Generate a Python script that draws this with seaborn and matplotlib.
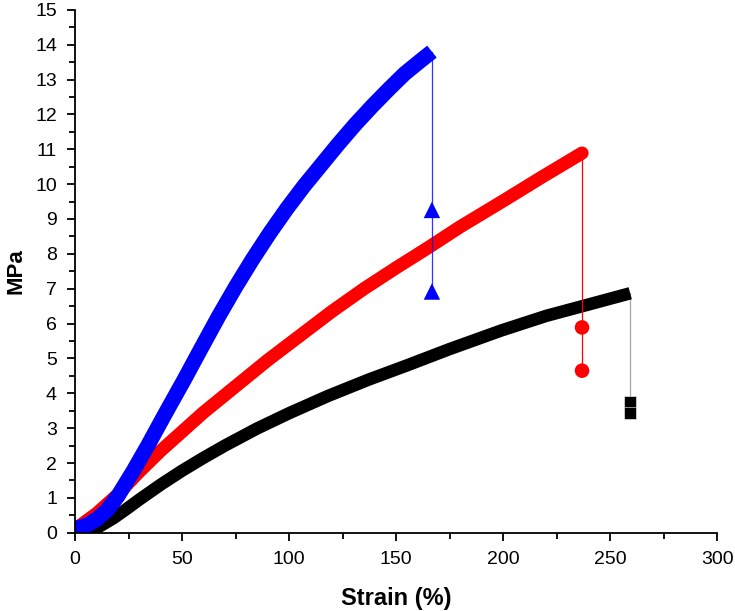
import numpy as np
import pandas as pd
import seaborn as sns
import matplotlib.pyplot as plt
from matplotlib.ticker import MultipleLocator

# stress-strain curves
blue_strain = [0, 5, 10, 15, 20, 27, 34, 42, 51, 59, 67, 75, 83, 91, 99, 107, 115, 123, 131, 139, 147, 154, 161, 166.7]
blue_mpa = [0.12, 0.2, 0.38, 0.65, 1.05, 1.75, 2.5, 3.4, 4.39, 5.3, 6.2, 7.05, 7.85, 8.6, 9.3, 9.95, 10.55, 11.15, 11.72, 12.25, 12.75, 13.17, 13.52, 13.8]
red_strain = [0, 10, 20, 30, 40, 50, 60, 75, 90, 105, 120, 135, 150, 165, 180, 200, 218, 236.8]
red_mpa = [0.1, 0.55, 1.1, 1.75, 2.35, 2.9, 3.45, 4.2, 4.95, 5.65, 6.35, 7.0, 7.6, 8.18, 8.78, 9.52, 10.2, 10.89]
black_strain = [6, 12, 18, 24, 30, 40, 50, 60, 70, 85, 100, 118, 137, 155, 175, 199, 220, 240, 259.3]
black_mpa = [0.0, 0.2, 0.42, 0.68, 0.95, 1.38, 1.78, 2.15, 2.5, 2.99, 3.43, 3.92, 4.39, 4.8, 5.27, 5.8, 6.22, 6.55, 6.87]

# points recorded after failure
blue_break_x = [166.7, 166.7]
blue_break_y = [9.26, 6.92]
red_break_x = [236.8, 236.8]
red_break_y = [5.89, 4.65]
black_break_x = [259.3, 259.3]
black_break_y = [3.74, 3.43]

sns.set_style("ticks", {"axes.edgecolor": "black", "text.color": "black",
                        "xtick.color": "black", "ytick.color": "black",
                        "axes.labelcolor": "black"})
plt.rcParams['font.family'] = ['Liberation Sans', 'DejaVu Sans']

fig = plt.figure(figsize=(7.35, 6.11), dpi=100)
ax = fig.add_axes([0.102, 0.128, 0.874, 0.856])

curves = [
    # x, y, break x, break y, colour, marker, width, cap, marker size, drop alpha
    (black_strain, black_mpa, black_break_x, black_break_y, "black", "s", 9, "butt", 75, 0.35),
    (red_strain, red_mpa, red_break_x, red_break_y, "red", "o", 9.5, "round", 110, 1.0),
    (blue_strain, blue_mpa, blue_break_x, blue_break_y, "blue", "^", 11, "butt", 140, 0.8),
]
for sx, sy, bx, by, col, mk, lw, cap, ms, da in curves:
    df = pd.DataFrame({"x": sx, "y": sy})
    sns.lineplot(data=df, x="x", y="y", color=col, linewidth=lw, ax=ax,
                 solid_capstyle=cap, solid_joinstyle="round", sort=False, estimator=None)
    # thin drop line from the end of the curve
    drop = pd.DataFrame({"x": [sx[-1]] + bx, "y": [sy[-1]] + by})
    sns.lineplot(data=drop, x="x", y="y", color=col, linewidth=0.9, ax=ax,
                 sort=False, estimator=None, alpha=da)
    sns.scatterplot(x=bx, y=by, color=col, marker=mk, s=ms,
                    edgecolor="white" if mk == "s" else "none", linewidth=0.4,
                    ax=ax, zorder=5)

ax.set_xlim(0, 300)
ax.set_ylim(0, 15)
ax.xaxis.set_major_locator(MultipleLocator(50))
ax.xaxis.set_minor_locator(MultipleLocator(25))
ax.yaxis.set_major_locator(MultipleLocator(1))
ax.yaxis.set_minor_locator(MultipleLocator(0.5))
ax.tick_params(which="major", length=6, width=1.3, labelsize=14, direction="out", pad=7)
ax.tick_params(which="minor", length=4, width=1.3, direction="out")
for s in ["left", "bottom"]:
    ax.spines[s].set_linewidth(1.3)
sns.despine(ax=ax)

ax.set_xlabel("Strain (%)", fontsize=17, fontweight="bold", labelpad=14)
ax.set_ylabel("MPa", fontsize=16, fontweight="bold", labelpad=6)

fig.savefig("out.png", dpi=100)
